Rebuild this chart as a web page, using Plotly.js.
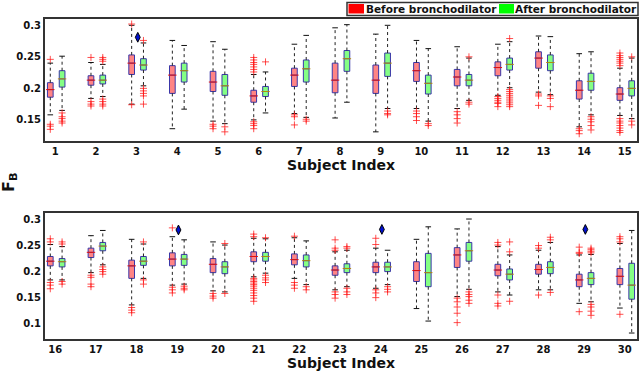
<!DOCTYPE html>
<html>
<head>
<meta charset="utf-8">
<script src="https://cdn.plot.ly/plotly-3.0.1.min.js"></script>
<style>
  html, body { margin: 0; padding: 0; background: #fff; }
  #chart { width: 640px; height: 371px; }
</style>
</head>
<body>
<div id="chart"></div>
<script>
// Subject indices, 1-15 in the top panel and 16-30 in the bottom panel
let subjects = [1, 2, 3, 4, 5, 6, 7, 8, 9, 10, 11, 12, 13, 14, 15,
    16, 17, 18, 19, 20, 21, 22, 23, 24, 25, 26, 27, 28, 29, 30];

// Before bronchodilator: whisker ends, quartiles, median, outliers
let beforeLo = [0.158, 0.184, 0.175, 0.136, 0.148, 0.150, 0.160, 0.153, 0.131, 0.168, 0.168, 0.189, 0.194, 0.139, 0.157,
    0.183, 0.197, 0.135, 0.173, 0.162, 0.189, 0.186, 0.164, 0.167, 0.128, 0.151, 0.160, 0.164, 0.138, 0.129];
let beforeQ1 = [0.186, 0.205, 0.222, 0.192, 0.195, 0.178, 0.203, 0.193, 0.192, 0.211, 0.204, 0.220, 0.232, 0.183, 0.181,
    0.210, 0.226, 0.186, 0.210, 0.197, 0.218, 0.212, 0.192, 0.197, 0.180, 0.207, 0.191, 0.194, 0.170, 0.174];
let beforeMed = [0.198, 0.213, 0.240, 0.221, 0.210, 0.188, 0.221, 0.213, 0.213, 0.228, 0.218, 0.233, 0.248, 0.197, 0.191,
    0.219, 0.236, 0.210, 0.223, 0.213, 0.228, 0.222, 0.202, 0.208, 0.201, 0.231, 0.202, 0.203, 0.183, 0.190];
let beforeQ3 = [0.209, 0.220, 0.253, 0.236, 0.227, 0.197, 0.232, 0.240, 0.237, 0.241, 0.230, 0.242, 0.258, 0.212, 0.201,
    0.228, 0.244, 0.221, 0.235, 0.224, 0.237, 0.233, 0.210, 0.217, 0.218, 0.245, 0.213, 0.213, 0.194, 0.205];
let beforeHi = [0.240, 0.241, 0.300, 0.276, 0.274, 0.222, 0.270, 0.296, 0.286, 0.276, 0.266, 0.270, 0.283, 0.255, 0.232,
    0.251, 0.268, 0.261, 0.266, 0.256, 0.263, 0.264, 0.237, 0.244, 0.261, 0.281, 0.247, 0.240, 0.231, 0.253];
let beforeOut = [
    [0.246, 0.143, 0.140, 0.135],
    [0.249, 0.179, 0.175, 0.172],
    [0.302, 0.174],
    [],
    [0.143, 0.140, 0.136],
    [0.249, 0.245, 0.241, 0.238, 0.234, 0.230, 0.226, 0.147, 0.144, 0.141, 0.136],
    [0.158, 0.155, 0.142],
    [],
    [],
    [0.164, 0.160, 0.155, 0.149],
    [0.163, 0.158, 0.152, 0.145],
    [0.187, 0.184, 0.181, 0.178, 0.176, 0.171],
    [0.191, 0.188, 0.173],
    [0.136, 0.133, 0.128],
    [0.256, 0.252, 0.249, 0.246, 0.243, 0.240, 0.236, 0.152, 0.148, 0.145, 0.141, 0.137, 0.133, 0.130],
    [0.262, 0.256, 0.178, 0.173, 0.166],
    [0.192, 0.188, 0.175, 0.170],
    [0.130, 0.125, 0.120],
    [0.283, 0.169, 0.164, 0.158],
    [0.157, 0.152, 0.148],
    [0.271, 0.266, 0.186, 0.183, 0.180, 0.177, 0.174, 0.171, 0.167, 0.163, 0.158, 0.153, 0.148, 0.142],
    [0.267, 0.178, 0.173, 0.167],
    [0.260, 0.244, 0.240, 0.160, 0.155, 0.148],
    [0.263, 0.251, 0.164, 0.158, 0.149],
    [],
    [0.148, 0.141, 0.131, 0.119, 0.101],
    [0.255, 0.250, 0.154, 0.138, 0.133],
    [0.249, 0.244, 0.154],
    [0.246, 0.236, 0.234, 0.122],
    [0.266, 0.262, 0.256, 0.117],
];

// After bronchodilator
let afterLo = [0.165, 0.187, 0.204, 0.167, 0.144, 0.161, 0.154, 0.178, 0.168, 0.148, 0.181, 0.201, 0.190, 0.158, 0.152,
    0.183, 0.212, 0.186, 0.175, 0.160, 0.196, 0.174, 0.170, 0.174, 0.104, 0.165, 0.154, 0.164, 0.141, 0.081];
let afterQ1 = [0.202, 0.207, 0.229, 0.210, 0.189, 0.187, 0.210, 0.227, 0.219, 0.191, 0.204, 0.229, 0.228, 0.197, 0.188,
    0.208, 0.239, 0.211, 0.211, 0.195, 0.219, 0.208, 0.197, 0.199, 0.170, 0.219, 0.183, 0.195, 0.174, 0.146];
let afterMed = [0.215, 0.213, 0.237, 0.228, 0.204, 0.195, 0.231, 0.247, 0.240, 0.208, 0.213, 0.238, 0.241, 0.211, 0.200,
    0.218, 0.248, 0.219, 0.223, 0.208, 0.228, 0.220, 0.205, 0.208, 0.197, 0.239, 0.194, 0.207, 0.186, 0.173];
let afterQ3 = [0.228, 0.221, 0.247, 0.240, 0.222, 0.203, 0.245, 0.260, 0.256, 0.221, 0.222, 0.248, 0.253, 0.224, 0.212,
    0.224, 0.255, 0.228, 0.232, 0.218, 0.236, 0.231, 0.214, 0.217, 0.234, 0.255, 0.204, 0.218, 0.197, 0.215];
let afterHi = [0.251, 0.238, 0.272, 0.268, 0.262, 0.226, 0.284, 0.301, 0.300, 0.263, 0.248, 0.274, 0.282, 0.258, 0.248,
    0.247, 0.278, 0.252, 0.260, 0.250, 0.262, 0.258, 0.240, 0.240, 0.285, 0.300, 0.231, 0.255, 0.232, 0.278];
let afterOut = [
    [0.161, 0.155, 0.152, 0.148, 0.145],
    [0.249, 0.246, 0.243, 0.183, 0.179, 0.175, 0.172],
    [0.276, 0.200, 0.196, 0.192, 0.188, 0.175],
    [],
    [0.139, 0.131],
    [0.242],
    [0.151, 0.148],
    [],
    [0.164, 0.160, 0.158],
    [0.144, 0.141],
    [0.250, 0.178, 0.175],
    [0.279, 0.198, 0.195, 0.192, 0.189, 0.186, 0.183, 0.180, 0.177, 0.174, 0.171],
    [0.188, 0.184, 0.171],
    [0.155, 0.151, 0.147, 0.141, 0.134],
    [0.250, 0.148, 0.142],
    [0.256, 0.252, 0.180, 0.175],
    [0.208, 0.203, 0.199, 0.194],
    [0.256, 0.183, 0.175],
    [0.171, 0.167, 0.164],
    [0.253, 0.157],
    [0.264, 0.192, 0.187, 0.183, 0.178],
    [0.170, 0.164],
    [0.247, 0.244, 0.167, 0.160, 0.155],
    [0.170, 0.165, 0.160],
    [],
    [0.160, 0.155, 0.151, 0.144, 0.138],
    [0.256, 0.237, 0.142],
    [0.265, 0.260, 0.159],
    [0.244, 0.241, 0.238, 0.235, 0.136, 0.131, 0.123, 0.115],
    [],
];

// Subjects marked with a diamond (significant change)
let sigSubjects = [3, 19, 24, 29];
let sigLevel = [0.281, 0.279, 0.280, 0.280];

let font = 'DejaVu Sans';
let boxW = 0.14;

function groupTraces(lo, q1, med, q3, hi, out, shift, fill, medColor, xa, ya, i0, i1) {
    let pos = [], wx = [], wy = [], cx = [], cy = [], mx = [], my = [], ox = [], oy = [];
    let bq1 = [], bmed = [], bq3 = [];
    for (let i = i0; i < i1; ++i) {
        let p = subjects[i] + shift;
        pos.push(p);
        bq1.push(q1[i]); bmed.push(med[i]); bq3.push(q3[i]);
        wx.push(p, p, null, p, p, null);
        wy.push(q3[i], hi[i], null, q1[i], lo[i], null);
        cx.push(p, p); cy.push(hi[i], lo[i]);
        mx.push(p); my.push(med[i]);
        for (let v of out[i]) { ox.push(p); oy.push(v); }
    }
    return [{
        type: 'box', x: pos, q1: bq1, median: bmed, q3: bq3,
        lowerfence: bq1, upperfence: bq3,
        width: boxW, whiskerwidth: 0, boxpoints: false,
        fillcolor: fill, line: { color: '#3a36a8', width: 1 },
        xaxis: xa, yaxis: ya, hoverinfo: 'skip',
    }, { // whiskers
        type: 'scatter', mode: 'lines', x: wx, y: wy,
        line: { color: '#222', width: 1, dash: 'dot' },
        xaxis: xa, yaxis: ya, hoverinfo: 'skip',
    }, { // whisker caps
        type: 'scatter', mode: 'markers', x: cx, y: cy,
        marker: { symbol: 'line-ew-open', size: 4, color: '#111', line: { width: 1 } },
        xaxis: xa, yaxis: ya, hoverinfo: 'skip',
    }, { // medians
        type: 'scatter', mode: 'markers', x: mx, y: my,
        marker: { symbol: 'line-ew-open', size: 6, color: medColor, line: { width: 1 } },
        xaxis: xa, yaxis: ya, hoverinfo: 'skip',
    }, { // outliers
        type: 'scatter', mode: 'markers', x: ox, y: oy,
        marker: { symbol: 'cross-thin-open', size: 5, color: 'rgba(255,20,20,0.75)', line: { width: 1 } },
        xaxis: xa, yaxis: ya, hoverinfo: 'skip',
    }];
}

let data = [];
[['x', 'y', 0, 15], ['x2', 'y2', 15, 30]].forEach(function (pn) {
    data = data.concat(groupTraces(beforeLo, beforeQ1, beforeMed, beforeQ3, beforeHi, beforeOut,
        -0.12, '#ff8484', '#e01010', pn[0], pn[1], pn[2], pn[3]));
    data = data.concat(groupTraces(afterLo, afterQ1, afterMed, afterQ3, afterHi, afterOut,
        0.17, '#84ff84', '#b08a10', pn[0], pn[1], pn[2], pn[3]));
    let sx = [], sy = [];
    for (let k = 0; k < sigSubjects.length; ++k) {
        let s = sigSubjects[k];
        if (s > pn[2] && s <= pn[3]) { sx.push(s + 0.03); sy.push(sigLevel[k]); }
    }
    data.push({
        type: 'scatter', mode: 'markers', x: sx, y: sy,
        marker: { symbol: 'diamond-tall', size: 7, color: '#0010d0', line: { color: '#000', width: 1 } },
        xaxis: pn[0], yaxis: pn[1], hoverinfo: 'skip',
    });
});

let tickFont = { family: font, size: 10, weight: 'bold', color: '#111' };
function xAxis(anchor, first) {
    let vals = subjects.slice(first - 1, first + 14);
    return {
        anchor: anchor, domain: [0, 1],
        range: [first - 0.25, first + 14.3],
        tickvals: vals, ticks: '', tickfont: tickFont,
        showgrid: false, zeroline: false,
        showline: true, mirror: true, linecolor: '#333', linewidth: 2,
        title: { text: 'Subject Index', font: { family: font, size: 14, weight: 'bold', color: '#111' }, standoff: 3 },
    };
}
function yAxis(anchor, domain, range, vals) {
    return {
        anchor: anchor, domain: domain, range: range,
        tickvals: vals, ticks: '', tickfont: tickFont,
        showgrid: false, zeroline: false,
        showline: true, mirror: true, linecolor: '#333', linewidth: 2,
    };
}

// legend drawn by hand, the box is very tight in the original
function px(x) { return (x - 45) / 592; }
function py(y) { return 1 - y / 371; }

let layout = {
    width: 640, height: 371,
    margin: { l: 45, r: 3, t: 0, b: 0, pad: 0 },
    paper_bgcolor: '#fff', plot_bgcolor: '#fff',
    showlegend: false,
    font: { family: font, color: '#111' },
    xaxis: xAxis('y', 1),
    yaxis: yAxis('x', [0.6208, 0.9488], [0.117, 0.31], [0.15, 0.2, 0.25, 0.3]),
    xaxis2: xAxis('y2', 16),
    yaxis2: yAxis('x2', [0.0855, 0.4251], [0.069, 0.311], [0.1, 0.15, 0.2, 0.25, 0.3]),
    shapes: [
        { type: 'rect', xref: 'paper', yref: 'paper', x0: px(347), x1: px(638), y0: py(15.5), y1: py(2.5),
            line: { color: '#333', width: 1.5 }, fillcolor: '#fff' },
        { type: 'rect', xref: 'paper', yref: 'paper', x0: px(348.5), x1: px(364), y0: py(13.5), y1: py(4),
            line: { width: 0 }, fillcolor: '#ff0000' },
        { type: 'rect', xref: 'paper', yref: 'paper', x0: px(499), x1: px(514), y0: py(13.5), y1: py(4),
            line: { width: 0 }, fillcolor: '#00ff00' },
    ],
    annotations: [
        { xref: 'paper', yref: 'paper', x: px(364), y: py(9), xanchor: 'left', yanchor: 'middle', showarrow: false,
            text: 'Before bronchodilator', font: { family: font, size: 10.5, weight: 'bold', color: '#111' } },
        { xref: 'paper', yref: 'paper', x: px(513), y: py(9), xanchor: 'left', yanchor: 'middle', showarrow: false,
            text: 'After bronchodilator', font: { family: font, size: 10.5, weight: 'bold', color: '#111' } },
        { xref: 'paper', yref: 'paper', x: px(9), y: py(183), xanchor: 'center', yanchor: 'middle', showarrow: false,
            textangle: -90, text: 'F<sub>B</sub>', font: { family: font, size: 16, weight: 'bold', color: '#111' } },
    ],
};

let config = { staticPlot: true, displayModeBar: false };

Plotly.newPlot('chart', data, layout, config);
</script>
</body>
</html>
